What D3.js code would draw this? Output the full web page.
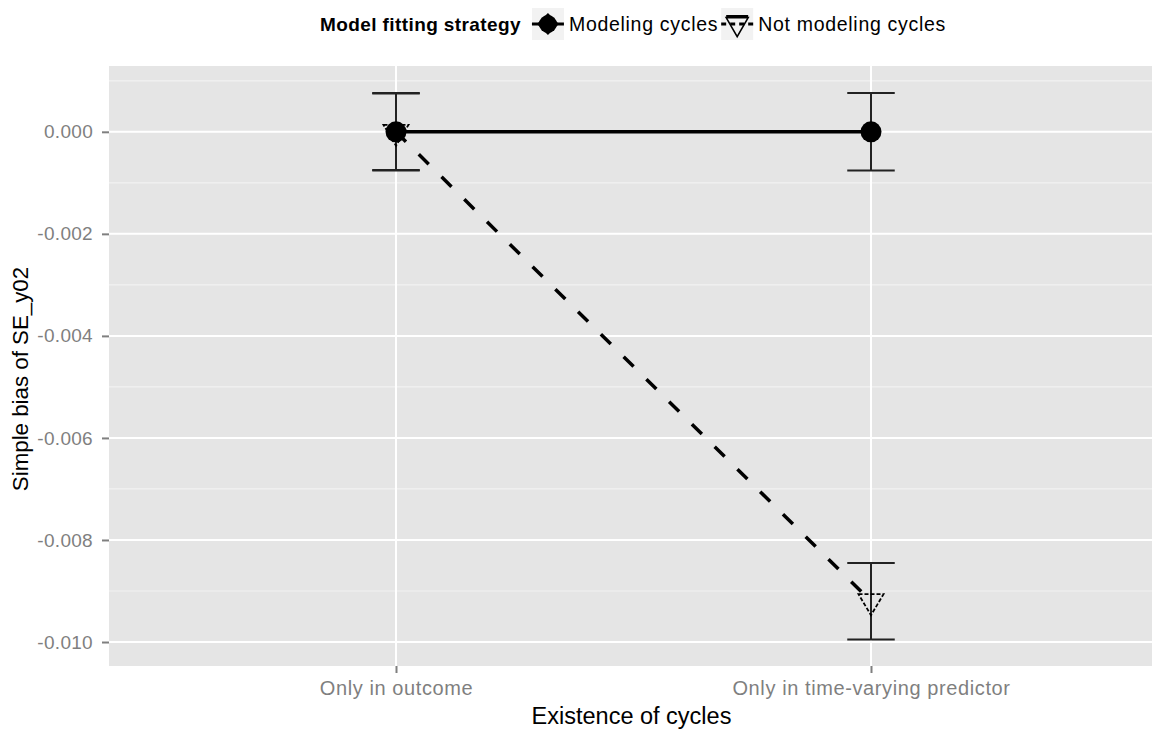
<!DOCTYPE html>
<html>
<head>
<meta charset="utf-8">
<script src="https://cdn.jsdelivr.net/npm/d3@7"></script>
<style>
  html, body { margin: 0; padding: 0; background: #ffffff; }
  svg { display: block; font-family: "Liberation Sans", Arial, sans-serif; }
</style>
</head>
<body>
<svg id="chart" width="1152" height="733"></svg>
<script>
// ---- data ----
const categories = ["Only in outcome", "Only in time-varying predictor"];
const strategies = ["Modeling cycles", "Not modeling cycles"];
const modelingMean = [0.0000, 0.0000];
const modelingHalfCI = [0.00076, 0.00076];
const notModelingMean = [0.0000, -0.0092];
const notModelingHalfCI = [0.00075, 0.00075];
const yTicks = [0.000, -0.002, -0.004, -0.006, -0.008, -0.010];
const yMinorTicks = [0.001, -0.001, -0.003, -0.005, -0.007, -0.009];
const xTitle = "Existence of cycles";
const yTitle = "Simple bias of SE_y02";
const legendTitle = "Model fitting strategy";

// ---- layout ----
const panel = { left: 109, top: 66, right: 1152, bottom: 666 };

const svg = d3.select("#chart");

const x = d3.scaleLinear().domain([0.4, 2.6]).range([111, 1156]);
const xPos = i => x(i + 1);
const y = d3.scaleLinear().domain([-0.01047, 0.00129]).range([panel.bottom, panel.top]);

// panel background
svg.append("rect")
  .attr("x", panel.left).attr("y", panel.top)
  .attr("width", panel.right - panel.left).attr("height", panel.bottom - panel.top)
  .attr("fill", "#E5E5E5");

const grid = svg.append("g");
grid.selectAll("line.minor").data(yMinorTicks).enter().append("line")
  .attr("x1", panel.left).attr("x2", panel.right)
  .attr("y1", d => y(d)).attr("y2", d => y(d))
  .attr("stroke", "#F2F2F2").attr("stroke-width", 1.2);
grid.selectAll("line.majorY").data(yTicks).enter().append("line")
  .attr("x1", panel.left).attr("x2", panel.right)
  .attr("y1", d => y(d)).attr("y2", d => y(d))
  .attr("stroke", "#FFFFFF").attr("stroke-width", 2);
grid.selectAll("line.majorX").data(categories).enter().append("line")
  .attr("x1", (d, i) => xPos(i)).attr("x2", (d, i) => xPos(i))
  .attr("y1", panel.top).attr("y2", panel.bottom)
  .attr("stroke", "#FFFFFF").attr("stroke-width", 2);

// ---- axes ----
const yAxis = d3.axisLeft(y).tickValues(yTicks).tickFormat(d3.format(".3f")).tickSize(7).tickPadding(9);
const gy = svg.append("g").attr("transform", `translate(${panel.left},0)`).call(yAxis);
gy.select(".domain").remove();
gy.selectAll(".tick line").attr("stroke", "#7F7F7F").attr("stroke-width", 2);
gy.selectAll(".tick text").attr("fill", "#7F7F7F").style("font-size", "19px")
  .style("letter-spacing", "0.3px")
  .style("font-family", "'Liberation Sans', Arial, sans-serif")
  .text(d => d3.format(".3f")(d).replace("−", "-"));

const xBand = d3.scaleOrdinal().domain(categories).range(categories.map((c, i) => xPos(i)));
const xAxis = d3.axisBottom(xBand).tickSize(7).tickPadding(8);
const gx = svg.append("g").attr("transform", `translate(0,${panel.bottom})`).call(xAxis);
gx.select(".domain").remove();
gx.selectAll(".tick line").attr("stroke", "#7F7F7F").attr("stroke-width", 2);
gx.selectAll(".tick text").attr("fill", "#7F7F7F").style("font-size", "20px")
  .style("letter-spacing", "0.6px")
  .style("font-family", "'Liberation Sans', Arial, sans-serif");

// axis titles
svg.append("text")
  .attr("x", (panel.left + panel.right) / 2 + 1).attr("y", 724)
  .attr("text-anchor", "middle").attr("fill", "#000")
  .style("font-size", "23.5px").text(xTitle);
svg.append("text")
  .attr("transform", `translate(28,379) rotate(-90)`)
  .attr("text-anchor", "middle").attr("fill", "#000")
  .style("font-size", "22.3px").text(yTitle);

// ---- marks ----
const series = [
  { name: strategies[0], mean: modelingMean, half: modelingHalfCI, dash: null, shape: "circle" },
  { name: strategies[1], mean: notModelingMean, half: notModelingHalfCI, dash: "14,18", shape: "triangle" }
];
const capHalf = (x(1.05) - x(0.95)) / 2;

const marks = svg.append("g");
series.forEach(s => {
  const g = marks.append("g");
  s.mean.forEach((m, i) => {
    const cx = xPos(i);
    const top = y(m + s.half[i]), bot = y(m - s.half[i]);
    g.append("line").attr("x1", cx).attr("x2", cx).attr("y1", top).attr("y2", bot)
      .attr("stroke", "#222").attr("stroke-width", 2);
    g.append("line").attr("x1", cx - capHalf).attr("x2", cx + capHalf).attr("y1", top).attr("y2", top)
      .attr("stroke", "#222").attr("stroke-width", 2);
    g.append("line").attr("x1", cx - capHalf).attr("x2", cx + capHalf).attr("y1", bot).attr("y2", bot)
      .attr("stroke", "#222").attr("stroke-width", 2);
  });
});
const lineGen = d3.line().x((d, i) => xPos(i)).y(d => y(d));
series.forEach(s => {
  marks.append("path").datum(s.mean).attr("d", lineGen)
    .attr("fill", "none").attr("stroke", "#000").attr("stroke-width", 3.5)
    .attr("stroke-dasharray", s.dash);
});
const triPath = (cx, cy, w, h) =>
  `M${cx - w / 2},${cy - h / 3}L${cx + w / 2},${cy - h / 3}L${cx},${cy + 2 * h / 3}Z`;
series.forEach(s => {
  s.mean.forEach((m, i) => {
    const cx = xPos(i), cy = y(m);
    if (s.shape === "circle") {
      marks.append("circle").attr("cx", cx).attr("cy", cy).attr("r", 10.5).attr("fill", "#000");
    } else {
      marks.append("path").attr("d", triPath(cx, cy, 25, 21))
        .attr("fill", "none").attr("stroke", "#000").attr("stroke-width", 1.8)
        .attr("stroke-dasharray", "4,2");
    }
  });
});

// ---- legend ----
const leg = svg.append("g");
const legY = 24;
let cursor = 0;
const lt = leg.append("text").attr("x", cursor).attr("y", legY + 7)
  .style("font-size", "19px").style("letter-spacing", "0.4px").style("font-weight", "bold")
  .attr("fill", "#000").text(legendTitle);
cursor += lt.node().getComputedTextLength() + 11;
const keySize = 32;
series.forEach(s => {
  const kx = cursor;
  leg.append("rect").attr("x", kx).attr("y", legY - keySize / 2).attr("width", keySize).attr("height", keySize)
    .attr("fill", "#F2F2F2");
  const cx = kx + keySize / 2;
  leg.append("line").attr("x1", kx).attr("x2", kx + keySize).attr("y1", legY).attr("y2", legY)
    .attr("stroke", "#000").attr("stroke-width", 3).attr("stroke-dasharray", s.dash ? "5,4" : null);
  if (s.shape === "circle") {
    leg.append("path").attr("d", `M${cx},${legY - 11}L${cx + 11},${legY}L${cx},${legY + 11}L${cx - 11},${legY}Z`)
      .attr("fill", "#000");
    leg.append("circle").attr("cx", cx).attr("cy", legY).attr("r", 9).attr("fill", "#000");
  } else {
    leg.append("line").attr("x1", cx - 11).attr("x2", cx + 11).attr("y1", legY - 8).attr("y2", legY - 8)
      .attr("stroke", "#000").attr("stroke-width", 2);
    leg.append("path").attr("d", triPath(cx, legY, 22, 19))
      .attr("fill", "none").attr("stroke", "#000").attr("stroke-width", 1.6);
  }
  cursor += keySize + 5;
  const t = leg.append("text").attr("x", cursor).attr("y", legY + 7)
    .style("font-size", "19.5px").style("letter-spacing", "0.7px")
    .attr("fill", "#000").text(s.name);
  cursor += t.node().getComputedTextLength() + 3;
});
const legW = cursor - 3;
leg.attr("transform", `translate(${633 - legW / 2},0)`);
</script>
</body>
</html>
